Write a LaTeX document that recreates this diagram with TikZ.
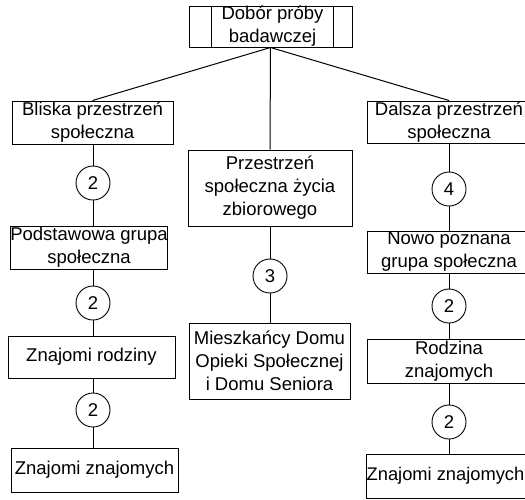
\documentclass[tikz,border=0pt]{standalone}
\usepackage{fontspec}
\setmainfont{Liberation Sans}
\begin{document}
\begin{tikzpicture}[x=1pt,y=-1pt,
  every node/.style={font=\fontsize{18.5}{23}\selectfont, inner sep=0pt, align=center},
  box/.style={draw, line width=1pt, rectangle, minimum height=#1},
  box/.default=43,
  num/.style={draw, line width=0.9pt, circle, minimum size=34pt, fill=white},
  conn/.style={line width=1pt}]
\useasboundingbox (0,0) rectangle (525,499);
\begin{scope}
\clip (0,0) rectangle (525,499);
% top
\node[box=41, minimum width=163] (top) at (270.5,26.5) {};
\draw[line width=1pt] ([xshift=23]top.north west) -- ([xshift=23]top.south west);
\draw[line width=1pt] ([xshift=-19]top.north east) -- ([xshift=-19]top.south east);
\node (toptext) at (272.5,26.5) {Dobór próby\\badawczej};
% left column
\node[box=43, minimum width=161] (bl) at (92.5,122.5) {Bliska przestrzeń\\społeczna};
\node[num] (c1) at (93,183) {2};
\node[box=43, minimum width=156] (po) at (89,247.5) {Podstawowa grupa\\społeczna};
\node[num] (c2) at (93,303) {2};
\node[box=42, minimum width=167] (zr) at (91.5,357) {Znajomi rodziny};
\node[num] (c3) at (93,410) {2};
\node[box=44, minimum width=167] (zz) at (94.5,470) {Znajomi znajomych};
% middle
\node[box=76, minimum width=164] (pr) at (270,188) {Przestrzeń\\społeczna życia\\zbiorowego};
\node[num] (c4) at (270,276) {3};
\node[box=76, minimum width=161] (mi) at (269.5,361) {Mieszkańcy Domu\\Opieki Społecznej\\i Domu Seniora};
% right
\node[box=42, minimum width=164] (da) at (449,122) {Dalsza przestrzeń\\społeczna};
\node[num] (c5) at (449,189) {4};
\node[box=42, minimum width=164] (no) at (449,252) {Nowo poznana\\grupa społeczna};
\node[num] (c6) at (449,306) {2};
\node[box=44, minimum width=164] (ro) at (449,361) {Rodzina\\znajomych};
\node[num] (c7) at (449,422) {2};
\node[box=44, minimum width=166] (zz2) at (449,476) {};
\node[font=\fontsize{18.3}{23}\selectfont] (zz2t) at (445.5,476) {Znajomi znajomych};
% connectors
\draw[conn] (top.south) -- (bl.north);
\draw[conn] (top.south) -- (pr.north);
\draw[conn] (top.south) -- (da.north);
\draw[conn] (c1.north) -- (c1.north |- bl.south);
\draw[conn] (c1.south) -- (c1.south |- po.north);
\draw[conn] (c2.north) -- (c2.north |- po.south);
\draw[conn] (c2.south) -- (c2.south |- zr.north);
\draw[conn] (c3.north) -- (c3.north |- zr.south);
\draw[conn] (c3.south) -- (c3.south |- zz.north);
\draw[conn] (c4.north) -- (c4.north |- pr.south);
\draw[conn] (c4.south) -- (c4.south |- mi.north);
\draw[conn] (c5.north) -- (c5.north |- da.south);
\draw[conn] (c5.south) -- (c5.south |- no.north);
\draw[conn] (c6.north) -- (c6.north |- no.south);
\draw[conn] (c6.south) -- (c6.south |- ro.north);
\draw[conn] (c7.north) -- (c7.north |- ro.south);
\draw[conn] (c7.south) -- (c7.south |- zz2.north);
\end{scope}
\end{tikzpicture}
\end{document}
